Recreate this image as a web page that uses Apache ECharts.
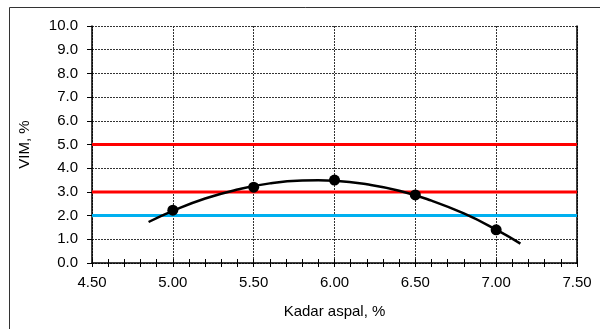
<!DOCTYPE html>
<html>
<head>
<meta charset="utf-8">
<script src="https://cdn.jsdelivr.net/npm/echarts@6/dist/echarts.min.js"></script>
<style>
  html, body { margin: 0; padding: 0; background: #fff; }
  #chart { width: 600px; height: 329px; }
</style>
</head>
<body>
<div id="chart"></div>
<script>
// titik data hasil uji
var kadarAspal = [5.0, 5.5, 6.0, 6.5, 7.0];
var nilaiVim = [2.23, 3.2, 3.5, 2.87, 1.4];

// kurva trend
var kurvaX = [4.85, 5.0, 5.2, 5.4, 5.6, 5.8, 5.9, 6.0, 6.2, 6.4, 6.6, 6.8, 7.0, 7.15];
var kurvaY = [1.73, 2.2, 2.72, 3.1, 3.36, 3.48, 3.49, 3.47, 3.32, 3.05, 2.63, 2.09, 1.41, 0.82];

// batas spesifikasi
var batasMerah = [3.0, 5.0];
var batasBiru = [2.0];

var xMin = 4.5, xMax = 7.5;

function garisBatas(val, warna) {
  return {
    type: 'line',
    data: [[xMin, val], [xMax, val]],
    symbol: 'none',
    lineStyle: { color: warna, width: 3 },
    silent: true,
    z: 3
  };
}

var chart = echarts.init(document.getElementById('chart'));
var font = 'Liberation Sans, Arial, sans-serif';

var series = [];
batasMerah.forEach(function (v) { series.push(garisBatas(v, '#ff0000')); });
batasBiru.forEach(function (v) { series.push(garisBatas(v, '#00b0f0')); });

series.push({
  type: 'line',
  data: kurvaX.map(function (x, i) { return [x, kurvaY[i]]; }),
  smooth: true,
  symbol: 'none',
  lineStyle: { color: '#000', width: 2.5 },
  z: 4
});
series.push({
  type: 'scatter',
  data: kadarAspal.map(function (x, i) { return [x, nilaiVim[i]]; }),
  symbol: 'circle',
  symbolSize: 11,
  itemStyle: { color: '#000', opacity: 1 },
  z: 5
});

chart.setOption({
  animation: false,
  backgroundColor: '#fff',
  textStyle: { fontFamily: font },
  graphic: [{
    type: 'rect',
    shape: { x: 9.5, y: 7.5, width: 600, height: 330 },
    style: { fill: 'none', stroke: '#333', lineWidth: 1 },
    silent: true
  }],
  grid: { left: 92, right: 23, top: 26, bottom: 66 },
  xAxis: [{
    type: 'value',
    min: xMin,
    max: xMax,
    interval: 0.5,
    name: 'Kadar aspal, %',
    nameLocation: 'middle',
    nameGap: 41,
    nameTextStyle: { color: '#000', fontSize: 15, fontFamily: font },
    axisLine: { lineStyle: { color: '#000', width: 1.5 } },
    axisTick: { show: true, length: 4, lineStyle: { color: '#000' } },
    minorTick: { show: true, splitNumber: 5, length: 4, lineStyle: { color: '#000' } },
    axisLabel: {
      color: '#000', fontSize: 15, margin: 12, fontFamily: font,
      formatter: function (v) { return v.toFixed(2); }
    },
    splitLine: { show: true, lineStyle: { color: '#333', type: [2, 1], width: 1 } }
  }, {
    type: 'value',
    position: 'bottom',
    min: xMin,
    max: xMax,
    interval: 0.5,
    axisLine: { show: false },
    axisTick: { show: true, inside: true, length: 4, lineStyle: { color: '#000' } },
    minorTick: { show: true, splitNumber: 5, length: 4, lineStyle: { color: '#000' } },
    axisLabel: { show: false },
    splitLine: { show: false }
  }],
  yAxis: [{
    type: 'value',
    min: 0,
    max: 10,
    interval: 1,
    name: 'VIM, %',
    nameLocation: 'middle',
    nameGap: 60,
    nameTextStyle: { color: '#000', fontSize: 15, fontFamily: font },
    axisLine: { show: true, lineStyle: { color: '#000', width: 1.5 } },
    axisTick: { show: true, length: 5, lineStyle: { color: '#000' } },
    axisLabel: {
      color: '#000', fontSize: 15, margin: 14, fontFamily: font,
      formatter: function (v) { return v.toFixed(1); }
    },
    splitLine: { show: true, lineStyle: { color: '#333', type: [2, 1], width: 1 } }
  }, {
    type: 'value',
    position: 'right',
    min: 0,
    max: 10,
    interval: 1,
    axisLine: { show: true, lineStyle: { color: '#000', width: 1.5 } },
    axisTick: { show: false },
    axisLabel: { show: false },
    splitLine: { show: false }
  }],
  series: series
});
</script>
</body>
</html>
